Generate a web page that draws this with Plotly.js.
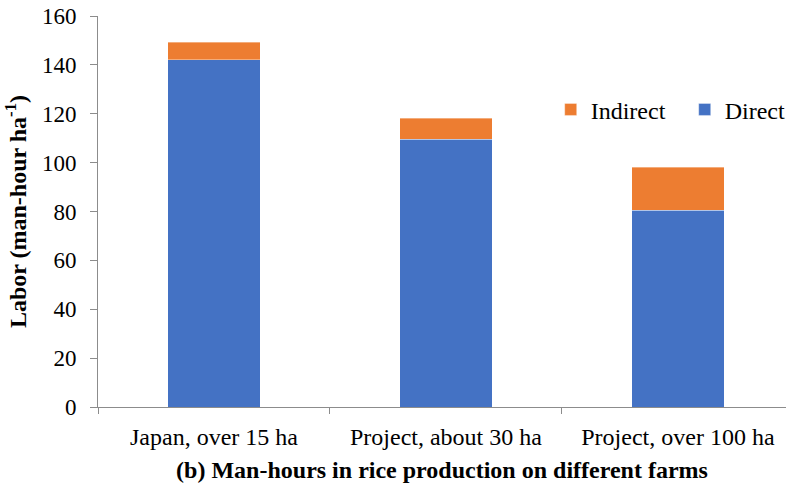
<!DOCTYPE html>
<html>
<head>
<meta charset="utf-8">
<script src="https://cdn.plot.ly/plotly-3.0.1.min.js"></script>
<style>
html,body{margin:0;padding:0;background:#fff;}
#chart text{font-family:'Liberation Serif','Times New Roman',serif !important;}
</style>
</head>
<body>
<div id="chart" style="width:786px;height:489px"></div>
<script>
const categories = ["Japan, over 15 ha", "Project, about 30 ha", "Project, over 100 ha"];
const directValues = [142.1, 109.5, 80.6];
const indirectValues = [7.1, 8.6, 17.5];
const yTicks = [0, 20, 40, 60, 80, 100, 120, 140, 160];

const fontFam = "Liberation Serif";

const traces = [
  {type: "bar", name: "Direct", x: categories, y: directValues,
   marker: {color: "#4472C4", line: {color: "rgba(255,255,255,0.6)", width: 0.6}}},
  {type: "bar", name: "Indirect", x: categories, y: indirectValues,
   marker: {color: "#ED7D31", line: {color: "rgba(255,255,255,0.6)", width: 0.6}}}
];

const layout = {
  width: 786, height: 489,
  margin: {l: 98, r: 0, t: 16, b: 82, autoexpand: false},
  paper_bgcolor: "#fff", plot_bgcolor: "#fff",
  font: {family: fontFam, size: 24, color: "black"},
  barmode: "stack",
  bargap: 0.6,
  showlegend: true,
  legend: {orientation: "h", x: 0.658, xanchor: "left", y: 0.76, yanchor: "middle",
           traceorder: "reversed", font: {size: 24, family: fontFam}, entrywidth: 89,
           bgcolor: "rgba(0,0,0,0)"},
  xaxis: {
    type: "category", range: [-0.5, 2.466], automargin: false, tickangle: 0,
    showline: true, linecolor: "#8c8c8c", linewidth: 1,
    ticks: "outside", tickson: "boundaries", ticklen: 6, tickcolor: "#8c8c8c",
    tickfont: {size: 24, family: fontFam}, showgrid: false, zeroline: false, ticklabelstandoff: 8,
    title: {text: "<b>(b) Man-hours in rice production on different farms</b>", font: {size: 24, family: fontFam}, standoff: 12}
  },
  yaxis: {
    range: [0, 160], tickvals: yTicks, ticktext: yTicks.map(String), automargin: false,
    showline: true, linecolor: "#8c8c8c", linewidth: 1,
    ticks: "outside", ticklen: 7, tickcolor: "#8c8c8c",
    tickfont: {size: 23, family: fontFam}, showgrid: false, zeroline: false, ticklabelstandoff: 9,
    title: {text: "<b>Labor (man-hour ha<sup>-1</sup>)</b>", font: {size: 24, family: fontFam}, standoff: 8}
  }
};

Plotly.newPlot("chart", traces, layout, {displayModeBar: false});
</script>
</body>
</html>
